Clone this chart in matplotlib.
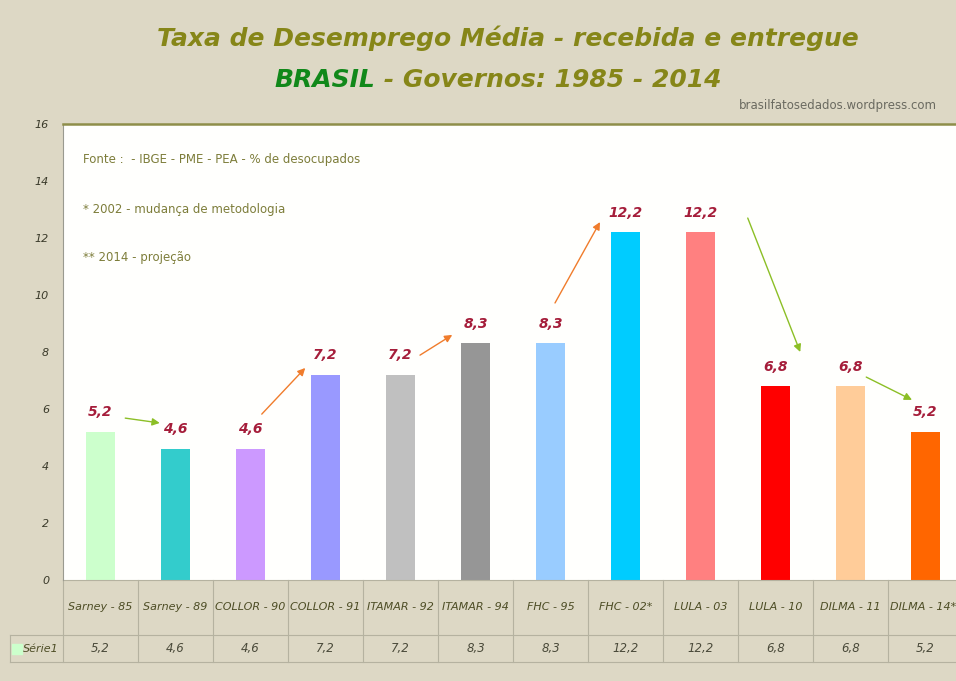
import numpy as np
import matplotlib
matplotlib.use("Agg")
import matplotlib.pyplot as plt

# data
categories = ["Sarney - 85", "Sarney - 89", "COLLOR - 90", "COLLOR - 91", "ITAMAR - 92",
              "ITAMAR - 94", "FHC - 95", "FHC - 02*", "LULA - 03", "LULA - 10",
              "DILMA - 11", "DILMA - 14**"]
values = [5.2, 4.6, 4.6, 7.2, 7.2, 8.3, 8.3, 12.2, 12.2, 6.8, 6.8, 5.2]
bar_colors = ["#ccffcc", "#33cccc", "#cc99ff", "#9999ff", "#c0c0c0", "#969696",
              "#99ccff", "#00ccff", "#ff8080", "#ff0000", "#ffcc99", "#ff6600"]
series_name = "Série1"
notes = ["Fonte :  - IBGE - PME - PEA - % de desocupados",
         "* 2002 - mudança de metodologia",
         "** 2014 - projeção"]
# trend arrows (start x, start y, end x, end y, kind)
arrows = [(0.33, 5.68, 0.79, 5.51, "down"),
          (2.15, 5.82, 2.73, 7.44, "up"),
          (4.26, 7.89, 4.69, 8.60, "up"),
          (6.06, 9.72, 6.66, 12.56, "up"),
          (8.63, 12.70, 9.33, 8.00, "down"),
          (10.21, 7.12, 10.82, 6.32, "down")]
arrow_colors = {"up": "#f07c2c", "down": "#8cbf26"}

BG = "#ddd8c5"
GRID = "#b5b2a0"
OLIVE = "#868618"
LABEL_RED = "#a51d3a"

fig = plt.figure(figsize=(9.56, 6.81), dpi=100, facecolor=BG)
ax = fig.add_axes([63 / 956, 1 - 580 / 681, 900 / 956, 456 / 681])
ax.set_facecolor("#fffffd")

x = np.arange(len(values))
ax.bar(x, values, width=0.375, color=bar_colors, zorder=2)
ax.set_xlim(-0.5, len(values) - 0.5)
ax.set_ylim(0, 16)
ax.set_yticks(np.arange(0, 17, 2))
ax.tick_params(axis="y", length=0, pad=10, labelsize=8, labelcolor="#3a3a2a")
for lab in ax.get_yticklabels():
    lab.set_fontstyle("italic")
ax.set_xticks([])

for s in ["right", "bottom"]:
    ax.spines[s].set_visible(False)
ax.spines["left"].set_color("#9a9a90")
ax.spines["top"].set_color("#8e8e4a")
ax.spines["top"].set_linewidth(1.8)

# value labels
for xi, v in zip(x, values):
    ax.annotate(f"{v:.1f}".replace(".", ","), (xi, v), xytext=(0, 9),
                textcoords="offset points", ha="center", va="bottom",
                fontsize=10, fontweight="bold", fontstyle="italic", color=LABEL_RED)

# arrows
for x0, y0, x1, y1, kind in arrows:
    ax.annotate("", xy=(x1, y1), xytext=(x0, y0),
                arrowprops=dict(arrowstyle="-|>", color=arrow_colors[kind], lw=1.0,
                                mutation_scale=11, shrinkA=0, shrinkB=0))

# notes
for i, t in enumerate(notes):
    ax.text(20 / 900, 1 - (36 + 49 * i) / 456, t, transform=ax.transAxes,
            fontsize=8.5, color="#7d7d3a", va="center", ha="left")

# data table below the axis
trans = ax.get_xaxis_transform()
r1 = -55 / 456
r2 = -82 / 456
lx = -53 / 900 * len(values) - 0.5  # left border of the series name column
for b in np.arange(len(values) + 1) - 0.5:
    ax.plot([b, b], [0, r2], transform=trans, color=GRID, lw=0.8, clip_on=False)
ax.plot([-0.5, len(values) - 0.5], [0, 0], transform=trans, color=GRID, lw=0.8, clip_on=False)
ax.plot([lx, len(values) - 0.5], [r1, r1], transform=trans, color=GRID, lw=0.8, clip_on=False)
ax.plot([lx, len(values) - 0.5], [r2, r2], transform=trans, color=GRID, lw=0.8, clip_on=False)
ax.plot([lx, lx], [r1, r2], transform=trans, color=GRID, lw=0.8, clip_on=False)
for xi, cat, v in zip(x, categories, values):
    ax.text(xi, r1 / 2, cat, transform=trans, ha="center", va="center",
            fontsize=8, fontstyle="italic", color="#4d4d25", clip_on=False)
    ax.text(xi, (r1 + r2) / 2, f"{v:.1f}".replace(".", ","), transform=trans,
            ha="center", va="center", fontsize=8.5, fontstyle="italic",
            color="#4a4a3a", clip_on=False)
ax.scatter([lx + 0.09], [(r1 + r2) / 2], transform=trans, marker="s", s=45,
           color=bar_colors[0], clip_on=False, zorder=3)
ax.text(lx + 0.17, (r1 + r2) / 2, series_name, transform=trans, ha="left",
        va="center", fontsize=8, fontstyle="italic", color="#4d4d25", clip_on=False)

# titles
fig.text(0.531, 1 - 38 / 681, "Taxa de Desemprego Média - recebida e entregue",
         ha="center", va="center", fontsize=18, fontweight="bold",
         fontstyle="italic", color=OLIVE)
renderer = fig.canvas.get_renderer()
ta = fig.text(0, 1 - 80 / 681, "BRASIL", ha="left", va="center", fontsize=18,
              fontweight="bold", fontstyle="italic", color="#11881a")
tb = fig.text(0, 1 - 80 / 681, " - Governos: 1985 - 2014", ha="left", va="center",
              fontsize=18, fontweight="bold", fontstyle="italic", color=OLIVE)
wa = ta.get_window_extent(renderer).width / fig.bbox.width
wb = tb.get_window_extent(renderer).width / fig.bbox.width
start = 0.521 - (wa + wb) / 2
ta.set_x(start)
tb.set_x(start + wa)
fig.text(937 / 956, 1 - 105 / 681, "brasilfatosedados.wordpress.com", ha="right",
         va="center", fontsize=8.5, color="#6a6a60")

fig.savefig("out.png", dpi=100, facecolor=BG)
